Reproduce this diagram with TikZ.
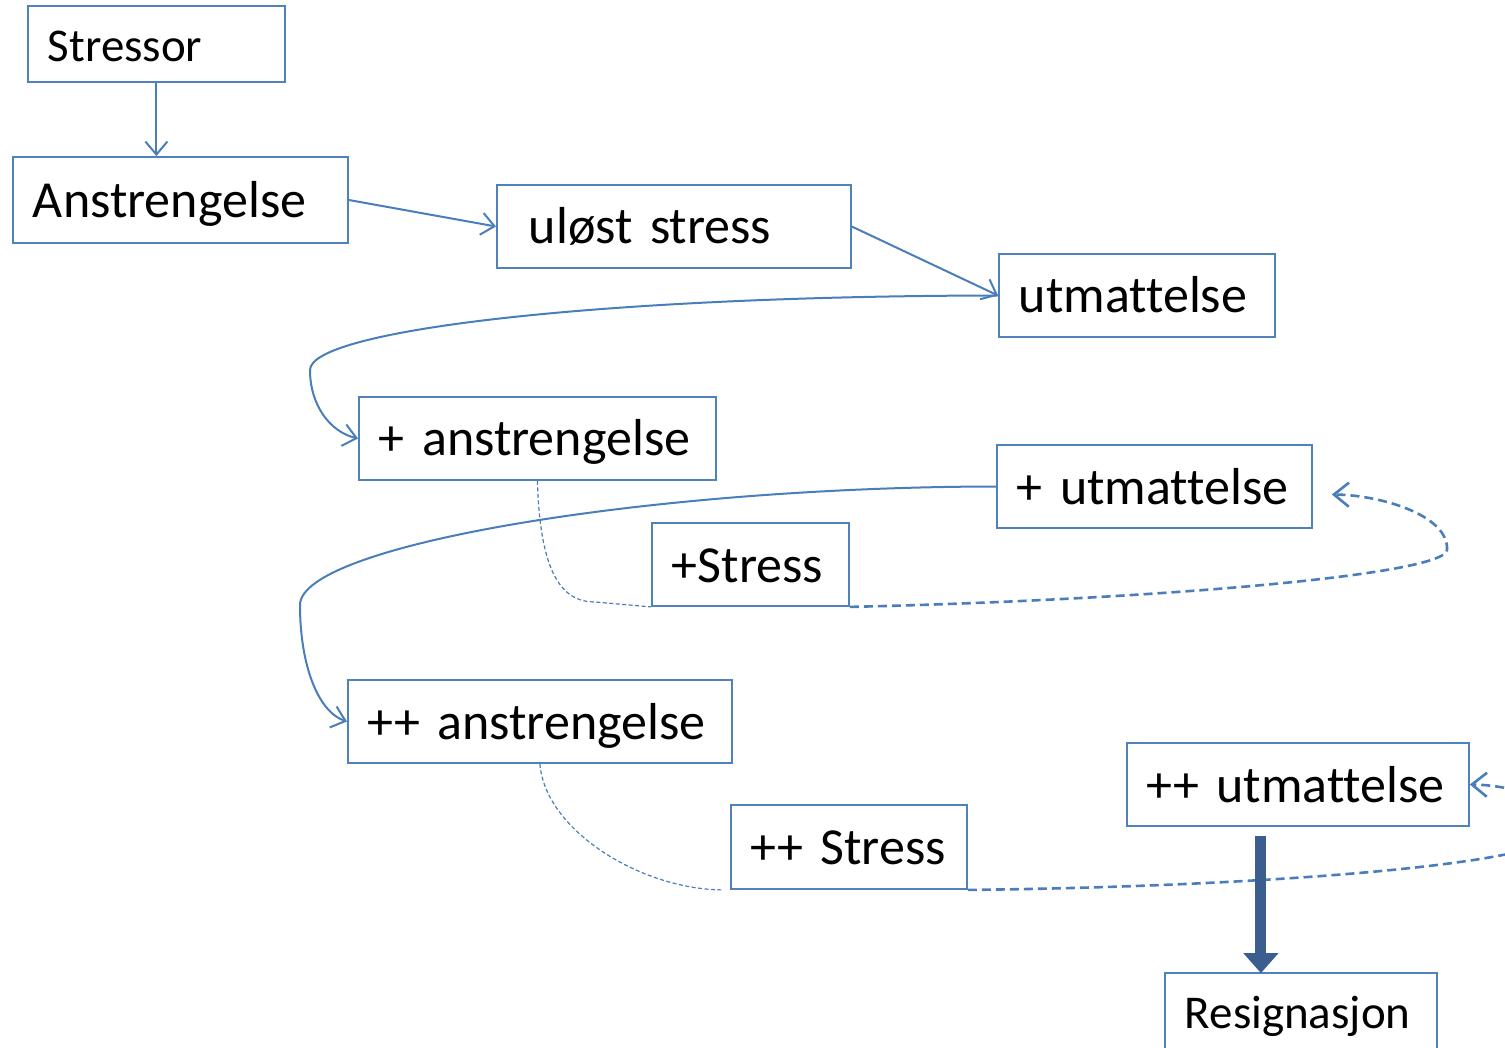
\documentclass[tikz,border=0pt]{standalone}
\usepackage{fontspec}
\setmainfont{Carlito}[Ligatures=NoCommon]
\usepackage{tikz}
\usetikzlibrary{arrows.meta}

\definecolor{boxblue}{RGB}{79,129,189}
\definecolor{lineblue}{RGB}{74,126,187}
\definecolor{darkblue}{RGB}{59,94,142}

\newcommand{\bigtext}{\fontsize{52}{62}\selectfont}
\newcommand{\smalltext}{\fontsize{47}{56}\selectfont}

\tikzset{
	box/.style = {draw=boxblue, line width=1.8pt, anchor=west, align=left,
		inner xsep=20pt, inner ysep=0pt, minimum height=83pt, font=\bigtext,
		text height=42pt, text depth=7pt},
	conn/.style = {draw=lineblue, line width=2pt, -{Straight Barb[length=13pt,width=22pt]}},
	thindash/.style = {draw=lineblue, line width=1.2pt, dash pattern=on 4pt off 2.5pt},
	loopline/.style = {draw=lineblue, line width=2.6pt, dash pattern=on 9pt off 5pt,
		-{Straight Barb[length=15pt,width=24pt]}},
	bigarrow/.style = {draw=darkblue, line width=11pt, -{Triangle[length=20pt,width=34pt]}}
}

\begin{document}
\begin{tikzpicture}[x=1pt, y=-1pt]
	\useasboundingbox (0,0) rectangle (1505,1048);
	% boxes
	\node[box, text width=217pt, minimum height=76pt, font=\smalltext] (stressor) at (27,44) {Stressor};
	\node[box, text width=295pt, minimum height=86pt] (anstr) at (12,200) {Anstrengelse};
	\node[box, text width=290pt, inner xsep=32pt] (ulost) at (496,226.5) {uløst stress};
	\node[box, text width=236pt] (utm) at (998,295.5) {utmattelse};
	\node[box, text width=317pt] (panst) at (358,438.5) {+ anstrengelse};
	\node[box, text width=275pt] (putm) at (996,486.5) {+ utmattelse};
	\node[box, text width=157pt] (pstress) at (651,564.5) {+Stress};
	\node[box, text width=344pt] (ppanst) at (347,721.5) {++ anstrengelse};
	\node[box, text width=302pt] (pputm) at (1126,784.5) {++ utmattelse};
	\node[box, text width=196pt, minimum height=84pt] (ppstress) at (730,847) {++ Stress};
	\node[box, text width=232pt, minimum height=76pt, font=\smalltext] (resig) at (1164,1011) {Resignasjon};
	% first chain
	\draw[conn] (stressor.south) -- (stressor.south |- anstr.north);
	\draw[conn] (anstr.east) -- (ulost.west);
	\draw[conn] (ulost.east) -- (utm.west);
	\draw[conn] (utm.west) .. controls (600,296) and (310,330) .. (310,370)
		.. controls (310,405) and (330,432) .. (panst.west);
	% + loop
	\draw[thindash] (panst.south) .. controls (540,570) and (560,602) .. (595,602) -- (pstress.south west);
	\draw[loopline] (pstress.south east) .. controls (1150,600) and (1445,575) .. (1447,550)
		.. controls (1449,515) and (1380,495) .. ([shift={(19,8)}]putm.east);
	\draw[conn] (putm.west) .. controls (650,487) and (300,545) .. (300,605)
		.. controls (300,665) and (318,712) .. (ppanst.west);
	% ++ loop
	\draw[thindash] (ppanst.south) .. controls (545,830) and (640,889) .. ([xshift=-8pt]ppstress.south west);
	\draw[loopline] (ppstress.south east) .. controls (1250,887) and (1560,865) .. (1565,830)
		.. controls (1568,800) and (1510,785) .. (pputm.east);
	\draw[bigarrow] ([xshift=-37pt,yshift=-9pt]pputm.south) -- ([xshift=-40pt,yshift=-1pt]resig.north);
\end{tikzpicture}
\end{document}
